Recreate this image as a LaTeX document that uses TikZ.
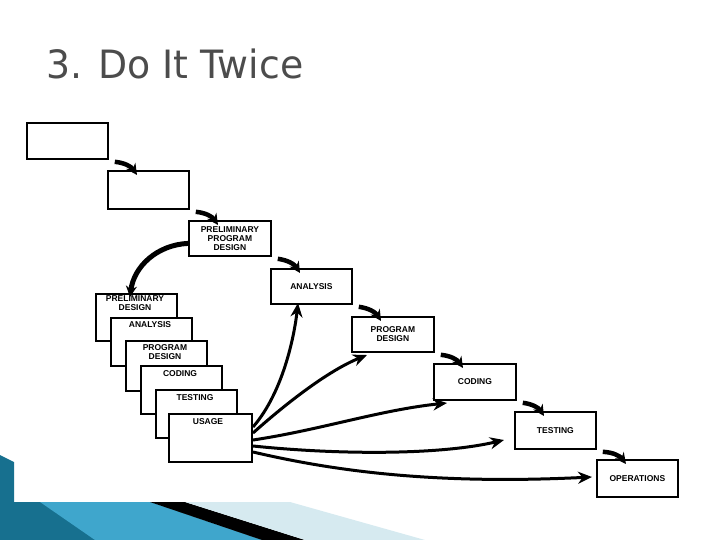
\documentclass[tikz,border=0pt]{standalone}
\usepackage{fontspec}
\setmainfont{Liberation Sans}
\newfontfamily\titlefont{DejaVu Sans}
\usetikzlibrary{arrows.meta}
\definecolor{deepteal}{HTML}{17708F}
\definecolor{midblue}{HTML}{3FA6CC}
\definecolor{paleblue}{HTML}{D6EAF0}
\begin{document}
\begin{tikzpicture}[x=1pt,y=-1pt,
  bx/.style={draw,line width=1.8pt,fill=white,inner sep=0pt,anchor=north west,align=center,font=\fontsize{8.5}{9}\selectfont\bfseries},
  lb/.style={anchor=north,font=\fontsize{8.5}{9}\selectfont\bfseries,align=center,inner sep=1pt},
  ar/.style={line width=4.5pt,-{Stealth[length=11pt,width=11pt]}},
  fan/.style={line width=3pt,-{Stealth[length=14pt,width=12pt]}}]
\useasboundingbox (0,0) rectangle (720,540);
% background decoration
\fill[deepteal] (0,455) -- (14,462) -- (14,502) -- (150,502) -- (262,540) -- (0,540) -- cycle;
\fill[midblue] (40,502) -- (150,502) -- (262,540) -- (95,540) -- cycle;
\fill[black] (150,502) -- (185,502) -- (305,540) -- (262,540) -- cycle;
\fill[paleblue] (185,502) -- (290,502) -- (425,540) -- (305,540) -- cycle;
\node[anchor=base west,text=black!70,font=\titlefont\fontsize{39}{40}\selectfont,xscale=0.97] (title) at (43,79) {3. Do It Twice};
% cascade
\node[bx,minimum width=81,minimum height=36] (b1) at (26,122) {};
\node[bx,minimum width=81,minimum height=38] (b2) at (107,170) {};
\node[bx,minimum width=82,minimum height=35] (ppd) at (188,220) {PRELIMINARY\\PROGRAM\\DESIGN};
\node[bx,minimum width=81,minimum height=35] (an) at (270,268) {ANALYSIS};
\node[bx,minimum width=82,minimum height=35] (pd) at (351,316) {PROGRAM\\DESIGN};
\node[bx,minimum width=82,minimum height=36] (cod) at (433,363) {CODING};
\node[bx,minimum width=81,minimum height=37] (tst) at (514,411) {TESTING};
\node[bx,minimum width=81,minimum height=37] (ops) at (596,459) {OPERATIONS};
% stack
\node[bx,minimum width=81,minimum height=47] (s1) at (95,293) {};
\node[lb] (s1t) at (135,294) {PRELIMINARY\\DESIGN};
\node[bx,minimum width=81,minimum height=48] (s2) at (110,317) {};
\node[lb] (s2t) at (150,320) {ANALYSIS};
\node[bx,minimum width=81,minimum height=50] (s3) at (125,340) {};
\node[lb] (s3t) at (165,343) {PROGRAM\\DESIGN};
\node[bx,minimum width=81,minimum height=48] (s4) at (140,365) {};
\node[lb] (s4t) at (180,369) {CODING};
\node[bx,minimum width=81,minimum height=48] (s5) at (155,389) {};
\node[lb] (s5t) at (195,393) {TESTING};
\node[bx,minimum width=83,minimum height=48] (s6) at (168,413) {};
\node[lb] (s6t) at (208,417) {USAGE};
% step arrows
\foreach \a/\b in {b1/b2,b2/ppd,ppd/an,an/pd,pd/cod,cod/tst,tst/ops}
  \draw[ar] ([xshift=6,yshift=-2]\a.south east) to[bend left=25] ([xshift=30,yshift=-5]\b.north west);
% loop back
\draw[ar,line width=5pt] ([yshift=-5]ppd.west) to[bend right=40] ([xshift=35,yshift=-4]s1.north west);
% fan
\coordinate (u1) at (253,427);
\coordinate (u2) at (253,433);
\coordinate (u3) at (253,440);
\coordinate (u4) at (253,446);
\coordinate (u5) at (253,452);
\draw[fan] (u1) .. controls (285,390) and (295,330) .. (298,303);
\draw[fan] (u2) .. controls (290,400) and (330,370) .. (367,355);
\draw[fan] (u3) .. controls (320,430) and (380,410) .. (447,403);
\draw[fan] (u4) .. controls (340,455) and (440,455) .. (504,440);
\draw[fan] (u5) .. controls (330,470) and (430,485) .. (592,477);
\end{tikzpicture}
\end{document}
